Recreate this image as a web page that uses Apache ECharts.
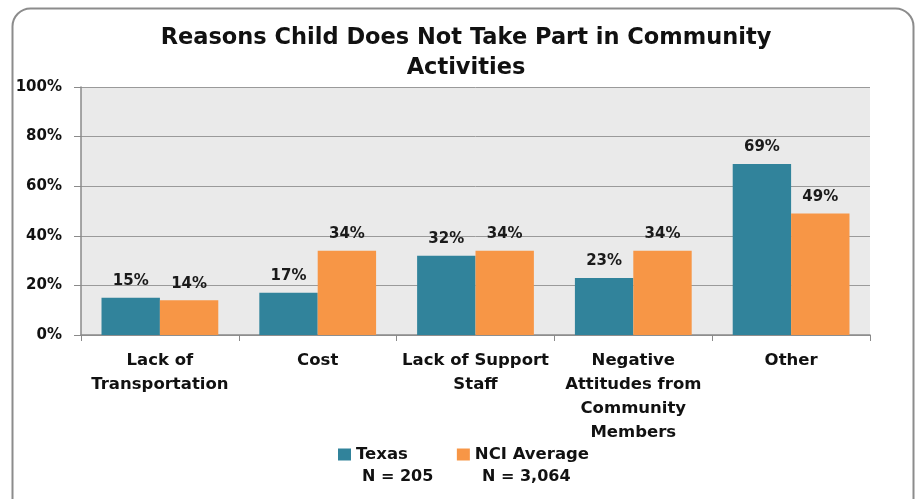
<!DOCTYPE html>
<html>
<head>
<meta charset="utf-8">
<script src="https://cdn.jsdelivr.net/npm/echarts@6/dist/echarts.min.js"></script>
<style>
  html, body { margin: 0; padding: 0; background: #fff; }
  #chart { width: 915px; height: 499px; }
</style>
</head>
<body>
<div id="chart"></div>
<script>
'use strict'
// chart data
var categories = ['Lack of\nTransportation', 'Cost', 'Lack of Support\nStaff', 'Negative\nAttitudes from\nCommunity\nMembers', 'Other'];
var texasValues = [15, 17, 32, 23, 69];
var nciValues = [14, 34, 34, 34, 49];
var seriesNames = ['Texas', 'NCI Average'];
var sampleSizes = ['N = 205', 'N = 3,064'];
var yTicks = [0, 20, 40, 60, 80, 100];

var fontFam = '"DejaVu Sans", "Open Sans", sans-serif';

function chartFun() {
    let chart = echarts.init(document.getElementById('chart'));
    let labelOpt = {
        show: true,
        position: 'top',
        distance: 9,
        formatter: function (p) { return Math.round(p.value) + '%'; },
        fontFamily: fontFam,
        fontWeight: 'bold',
        fontSize: 15,
        color: '#1a1a1a'
    };
    let option = {
        backgroundColor: '#fff',
        animation: false,
        title: {
            text: 'Reasons Child Does Not Take Part in Community\nActivities',
            left: 461,
            textAlign: 'center',
            top: 18,
            textStyle: {
                fontFamily: fontFam,
                fontWeight: 'bold',
                fontSize: 22.5,
                lineHeight: 30,
                color: '#111'
            }
        },
        legend: {
            data: seriesNames,
            left: 333,
            top: 441,
            itemWidth: 13,
            itemHeight: 12,
            itemGap: 49,
            icon: 'rect',
            textStyle: {
                fontFamily: fontFam,
                fontWeight: 'bold',
                fontSize: 16.5,
                color: '#111'
            }
        },
        grid: {
            left: 81,
            right: 45,
            top: 87,
            bottom: 164,
            show: true,
            backgroundColor: '#eaeaea',
            borderWidth: 0
        },
        xAxis: {
            type: 'category',
            data: categories,
            axisLine: { lineStyle: { color: '#8a8a8a', width: 1.5 } },
            axisTick: { show: true, length: 6, lineStyle: { color: '#8a8a8a' } },
            axisLabel: {
                interval: 0,
                margin: 14,
                fontFamily: fontFam,
                fontWeight: 'bold',
                fontSize: 16.5,
                lineHeight: 24,
                color: '#111'
            }
        },
        yAxis: {
            type: 'value',
            min: yTicks[0],
            max: yTicks[yTicks.length - 1],
            interval: 20,
            axisLine: { show: true, lineStyle: { color: '#8a8a8a', width: 1.5 } },
            axisTick: { show: true, length: 7, lineStyle: { color: '#8a8a8a' } },
            splitLine: { lineStyle: { color: '#9a9a9a', width: 1 } },
            axisLabel: {
                margin: 19,
                formatter: '{value}%',
                fontFamily: fontFam,
                fontWeight: 'bold',
                fontSize: 15,
                color: '#111'
            }
        },
        series: [
            {
                name: seriesNames[0],
                type: 'bar',
                data: texasValues,
                barGap: '0%',
                barCategoryGap: '26%',
                itemStyle: { color: '#31839b' },
                label: labelOpt
            },
            {
                name: seriesNames[1],
                type: 'bar',
                data: nciValues,
                itemStyle: { color: '#f79646' },
                label: labelOpt
            }
        ],
        graphic: [
            {
                type: 'rect',
                left: 10,
                top: 6,
                shape: { width: 901, height: 510, r: 18 },
                style: { fill: null, stroke: '#8c8c8c', lineWidth: 2 },
                z: -1
            },
            {
                type: 'text',
                left: 362,
                top: 469,
                style: { text: sampleSizes[0], fontFamily: fontFam, fontWeight: 'bold', fontSize: 16, fill: '#111' }
            },
            {
                type: 'text',
                left: 482,
                top: 469,
                style: { text: sampleSizes[1], fontFamily: fontFam, fontWeight: 'bold', fontSize: 16, fill: '#111' }
            }
        ]
    };
    chart.setOption(option);
}
chartFun();
</script>
</body>
</html>
